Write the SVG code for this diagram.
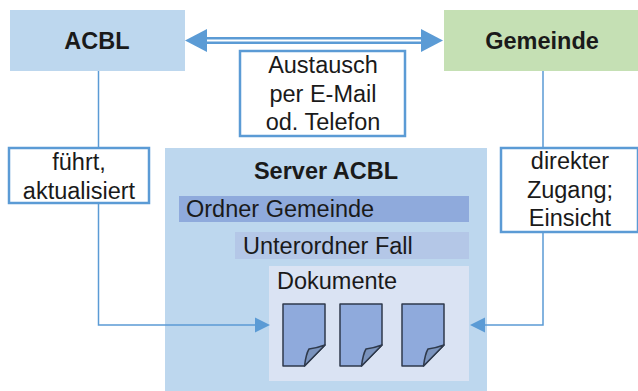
<svg xmlns="http://www.w3.org/2000/svg" width="638" height="391" viewBox="0 0 638 391">
<style>
text{font-family:"Liberation Sans",Arial,sans-serif;fill:#1a1a1a;font-size:23.500px;text-anchor:middle}
.b{font-weight:bold}
.l{text-anchor:start}
.lab{fill:#fff;stroke:#5b9bd5;stroke-width:2.5}
.con{fill:none;stroke:#5b9bd5;stroke-width:1.5}
.dbl{fill:none;stroke:#5b9bd5;stroke-width:2.5}
.ah{fill:#5b9bd5;stroke:none}
.doc{fill:#8faadc;stroke:#2f3a4c;stroke-width:1.5;stroke-linejoin:round}
.fold{fill:#7a93bd;stroke:#2f3a4c;stroke-width:1.5;stroke-linejoin:round}
</style>
<defs>
<g id="d">
<path class="doc" d="M0 0H42V41L21.500 62H0Z"/>
<path class="fold" d="M21.500 62Q23 50 26 45Q34 44 42 41Z"/>
</g>
</defs>
<g id="server">
<rect x="165" y="148" width="322" height="243" fill="#bdd7ee"/>
<text class="b" x="326" y="179">Server ACBL</text>
</g>
<g id="ordner">
<rect x="179" y="196" width="290" height="26" fill="#8faadc"/>
<text class="l" x="186" y="217">Ordner Gemeinde</text>
</g>
<g id="unterordner">
<rect x="235" y="232" width="234" height="27" fill="#b4c7e7"/>
<text class="l" x="243" y="254">Unterordner Fall</text>
</g>
<g id="dokumente">
<rect x="269" y="266" width="200" height="115" fill="#dae3f3"/>
<text class="l" x="277" y="289">Dokumente</text>
<use href="#d" x="283" y="304"/>
<use href="#d" x="340" y="304"/>
<use href="#d" x="402" y="304"/>
</g>
<g id="connectors">
<path class="con" d="M98.500 71V325H258"/>
<path class="con" d="M543 71V325H485"/>
<path class="dbl" d="M204 38.300H424M204 42.700H424"/>
<path class="ah" d="M185 40.500L207 29V52Z"/>
<path class="ah" d="M443 40.500L421 29V52Z"/>
<path class="ah" d="M270 325L255 317.500V332.500Z"/>
<path class="ah" d="M470 325L485 317.500V332.500Z"/>
</g>
<g id="acbl">
<rect x="10" y="10" width="175" height="61" fill="#bdd7ee"/>
<text class="b" x="97" y="49">ACBL</text>
</g>
<g id="gemeinde">
<rect x="444" y="10" width="194" height="61" fill="#c5e0b4"/>
<text class="b" x="542" y="49">Gemeinde</text>
</g>
<g id="austausch">
<rect class="lab" x="240" y="51" width="165" height="85"/>
<text x="323" y="73">Austausch</text>
<text x="323" y="102">per E-Mail</text>
<text x="323" y="130">od. Telefon</text>
</g>
<g id="fuehrt">
<rect class="lab" x="9" y="148" width="140" height="55"/>
<text x="79" y="170">führt,</text>
<text x="79" y="199">aktualisiert</text>
</g>
<g id="zugang">
<rect class="lab" x="501" y="148" width="137" height="84"/>
<text x="570" y="169">direkter</text>
<text x="570" y="198">Zugang;</text>
<text x="570" y="226">Einsicht</text>
</g>
</svg>
